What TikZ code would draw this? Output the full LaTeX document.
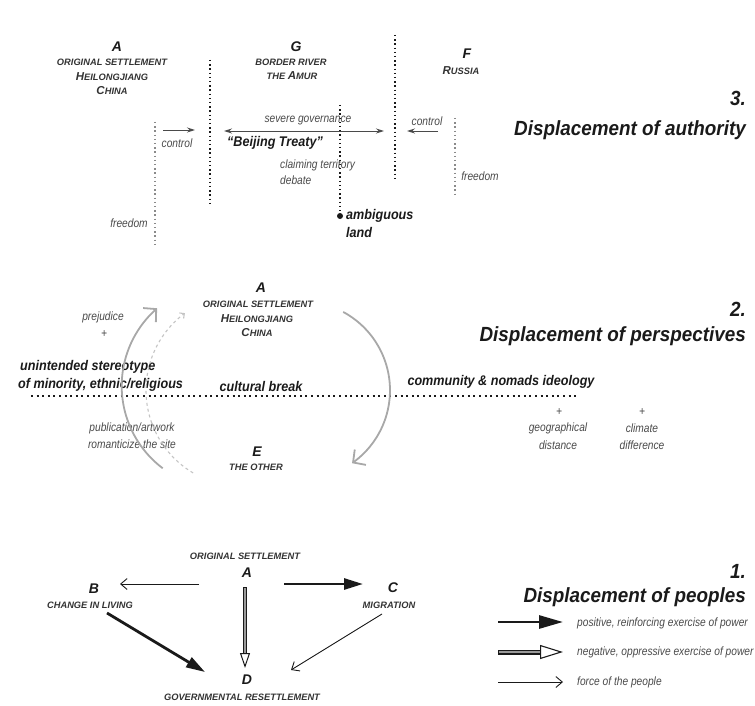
\documentclass[tikz,border=0pt]{standalone}
\usepackage{fontspec}
\setmainfont{Liberation Sans}
\newfontfamily\titlefont[FakeStretch=0.92]{Liberation Sans}
\newfontfamily\labfont[FakeStretch=0.85]{Liberation Sans}
\newfontfamily\midfont[FakeStretch=0.9]{Liberation Sans}
\usetikzlibrary{arrows.meta,calc}
\definecolor{ink}{HTML}{1A1A1A}
\definecolor{capgray}{HTML}{333333}
\definecolor{labgray}{HTML}{4A4A4A}
\definecolor{arcgray}{HTML}{A8A8A8}
\definecolor{dashgray}{HTML}{C4C4C4}
\definecolor{dotgray}{HTML}{8A8A8A}
\definecolor{shaftgray}{HTML}{9A9A9A}
\newcommand\BigCap[1]{{\fontsize{11.5}{12}\selectfont #1}}
\tikzset{
  titletext/.style={font=\titlefont\bfseries\itshape\fontsize{20.5}{22}\selectfont, text=ink, inner sep=0, anchor=base east},
  letter/.style={font=\bfseries\itshape\fontsize{14}{16}\selectfont, text=ink, inner sep=0},
  caps/.style={font=\bfseries\itshape\fontsize{9.3}{11}\selectfont, text=capgray, inner sep=0},
  lab/.style={font=\labfont\itshape\fontsize{12}{14}\selectfont, text=labgray, inner sep=0},
  mid/.style={font=\midfont\bfseries\itshape\fontsize{14}{16}\selectfont, text=ink, inner sep=0},
  blackdots/.style={draw=ink, line width=1.4pt, dash pattern=on 1.4pt off 2.8pt},
  greydots/.style={draw=dotgray, line width=1.4pt, dash pattern=on 1.4pt off 2.8pt},
  breakdots/.style={draw=ink, line width=2pt, dash pattern=on 2pt off 3.6pt},
  thinarrow/.style={line width=0.9pt, draw=ink, -{Straight Barb[length=6.5pt,width=11pt]}},
  heavyarrow/.style={line width=2.8pt, draw=ink, -{Triangle[length=19pt,width=11pt]}},
  greyarrow/.style={line width=0.9pt, draw=labgray, -{Stealth[length=8pt,width=5pt]}},
  greybiarrow/.style={line width=0.9pt, draw=labgray, {Stealth[length=8pt,width=5pt]}-{Stealth[length=8pt,width=5pt]}},
  arcline/.style={line width=1.8pt, draw=arcgray, -{Straight Barb[length=9pt,width=19pt]}},
  dasharc/.style={line width=1.1pt, draw=dashgray, dash pattern=on 3pt off 3pt, -{Straight Barb[length=3.5pt,width=7pt]}},
}
\begin{document}
\begin{tikzpicture}[x=1pt,y=-1pt]
\useasboundingbox (0,0) rectangle (755,706);

% ================= Section 3 =================
\node[letter] (A3) at (117,47) {A};
\node[caps] (A3a) at (112,62) {ORIGINAL SETTLEMENT};
\node[caps] (A3b) at (112,77) {\BigCap{H}EILONGJIANG};
\node[caps] (A3c) at (112,91) {\BigCap{C}HINA};
\node[letter] (G3) at (296,47) {G};
\node[caps] (G3a) at (291,62) {BORDER RIVER};
\node[caps] (G3b) at (292,76) {THE \BigCap{A}MUR};
\node[letter] (F3) at (467,54) {F};
\node[caps] (F3a) at (461,71) {\BigCap{R}USSIA};

\coordinate (d1t) at (210,60);  \coordinate (d1b) at (210,203);
\coordinate (d2t) at (155,122); \coordinate (d2b) at (155,246);
\coordinate (d3t) at (340,105);
\coordinate (d4t) at (395,35);  \coordinate (d4b) at (395,180);
\coordinate (d5t) at (455,118); \coordinate (d5b) at (455,195);
\node[circle, fill=ink, inner sep=0, minimum size=6pt] (amb) at (340,216) {};

\draw[blackdots] (d1t) -- (d1b);
\draw[greydots] (d2t) -- (d2b);
\draw[blackdots] (d3t) -- (amb.center);
\draw[blackdots] (d4t) -- (d4b);
\draw[greydots] (d5t) -- (d5b);

\coordinate (cl1) at (163,130); \coordinate (cl2) at (195,130);
\draw[greyarrow] (cl1) -- (cl2);
\node[lab] (ctrlL) at (177,143) {control};
\coordinate (sg1) at (224,131); \coordinate (sg2) at (384,131);
\draw[greybiarrow] (sg1) -- (sg2);
\node[lab] (sev) at (308,121) {severe governance};
\node[mid] (bt) at (275,143) {“Beijing Treaty”};
\node[lab, anchor=west] (clm) at (280,165) {claiming territory};
\node[lab, anchor=west] (deb) at (280,180) {debate};
\node[mid, anchor=west] (ambt) at (346,216) {ambiguous};
\node[mid, anchor=west] (land) at (346,232) {land};
\coordinate (cr1) at (438,131); \coordinate (cr2) at (407,131);
\draw[greyarrow] (cr1) -- (cr2);
\node[lab] (ctrlR) at (427,121) {control};
\node[lab] (frR) at (480,176) {freedom};
\node[lab] (frL) at (129,223) {freedom};

\node[titletext] (t3n) at (746,106) {3.};
\node[titletext] (t3) at (746,136) {Displacement of authority};

% ================= Section 2 =================
\node[letter] (A2) at (261,288) {A};
\node[caps] (A2a) at (258,304) {ORIGINAL SETTLEMENT};
\node[caps] (A2b) at (257,319) {\BigCap{H}EILONGJIANG};
\node[caps] (A2c) at (257,333) {\BigCap{C}HINA};
\node[lab] (prej) at (103,317) {prejudice};
\node[lab] (plus1) at (104,334) {+};
\node[mid, anchor=west] (ster1) at (20,367) {unintended stereotype};
\node[mid, anchor=west] (ster2) at (18,385) {of minority, ethnic/religious};
\node[mid] (cb) at (261,386) {cultural break};
\node[mid] (comm) at (501,382) {community \& nomads ideology};
\coordinate (bk1) at (31,396); \coordinate (bk2) at (578,396);
\draw[breakdots] (bk1) -- (bk2);
\node[lab] (pub1) at (132,428) {publication/artwork};
\node[lab] (pub2) at (132,444) {romanticize the site};
\node[letter] (E2) at (257,452) {E};
\node[caps] (E2a) at (256,467) {THE OTHER};
\node[lab] (plus2) at (559,412) {+};
\node[lab] (geo1) at (558,428) {geographical};
\node[lab] (geo2) at (558,445) {distance};
\node[lab] (plus3) at (642,412) {+};
\node[lab] (cli1) at (642,428) {climate};
\node[lab] (cli2) at (642,445) {difference};

\draw[dasharc, domain=120.6:233.5, samples=60, variable=\t]
  plot ({242+96*cos(\t)},{390.3+96*sin(\t)});
\draw[arcline, domain=127:229, samples=60, variable=\t]
  plot ({224.7+103*cos(\t)},{386+103*sin(\t)});
\draw[arcline, domain=-61.7:55, samples=60, variable=\t]
  plot ({301+89*cos(\t)},{390.3+89*sin(\t)});

\node[titletext] (t2n) at (746,316) {2.};
\node[titletext] (t2) at (746,341) {Displacement of perspectives};

% ================= Section 1 =================
\node[caps] (A1a) at (245,556) {ORIGINAL SETTLEMENT};
\node[letter] (A1) at (247,573) {A};
\node[letter] (B1) at (94,589) {B};
\node[caps] (B1a) at (90,605) {CHANGE IN LIVING};
\node[letter] (C1) at (393,588) {C};
\node[caps] (C1a) at (389,605) {MIGRATION};
\node[letter] (D1) at (247,680) {D};
\node[caps] (D1a) at (242,697) {GOVERNMENTAL RESETTLEMENT};

\coordinate (ab1) at (199,584); \coordinate (ab2) at (120,584);
\draw[thinarrow] (ab1) -- (ab2);
\coordinate (ac1) at (284,584); \coordinate (ac2) at (363,584);
\draw[heavyarrow] (ac1) -- (ac2);
\coordinate (bd1) at (107,613); \coordinate (bd2) at (205,672);
\draw[heavyarrow] (bd1) -- (bd2);
\coordinate (cd1) at (382,614); \coordinate (cd2) at (291,670);
\draw[thinarrow] (cd1) -- (cd2);
\coordinate (ad1) at (245,587); \coordinate (ad2) at (245,668);
\draw[line width=4.6pt, ink] (ad1) -- ($(ad2)!15pt!(ad1)$);
\draw[line width=2.2pt, shaftgray] ($(ad1)!1.2pt!(ad2)$) -- ($(ad2)!15pt!(ad1)$);
\draw[line width=1pt, ink, -{Triangle[open, length=15pt, width=10pt]}] ($(ad2)!15pt!(ad1)$) -- (ad2);

% legend
\coordinate (lg1a) at (498,622); \coordinate (lg1b) at (563,622);
\draw[heavyarrow, -{Triangle[length=24pt,width=13pt]}] (lg1a) -- (lg1b);
\coordinate (lg2a) at (498,652); \coordinate (lg2b) at (563,652);
\draw[line width=5pt, ink] (lg2a) -- ($(lg2b)!23pt!(lg2a)$);
\draw[line width=2.4pt, shaftgray] ($(lg2a)!1.3pt!(lg2b)$) -- ($(lg2b)!23pt!(lg2a)$);
\draw[line width=1.1pt, ink, -{Triangle[open, length=23pt, width=14pt]}] ($(lg2b)!23pt!(lg2a)$) -- (lg2b);
\coordinate (lg3a) at (498,682); \coordinate (lg3b) at (563,682);
\draw[thinarrow] (lg3a) -- (lg3b);
\node[lab, anchor=west] (lt1) at (577,623) {positive, reinforcing exercise of power};
\node[lab, anchor=west] (lt2) at (577,652) {negative, oppressive exercise of power};
\node[lab, anchor=west] (lt3) at (577,682) {force of the people};

\node[titletext] (t1n) at (746,578) {1.};
\node[titletext] (t1) at (746,602) {Displacement of peoples};
\end{tikzpicture}
\end{document}
